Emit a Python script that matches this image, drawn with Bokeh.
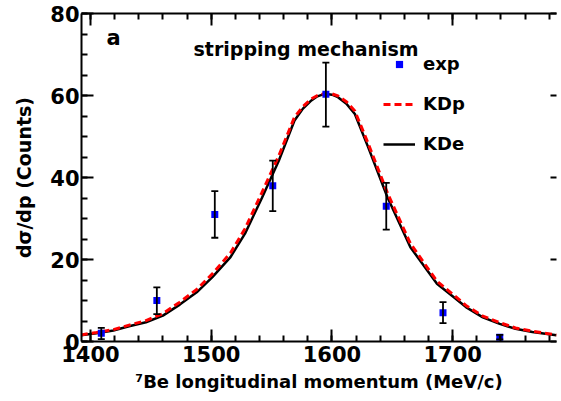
from bokeh.plotting import figure
from bokeh.models import (Range1d, SingleIntervalTicker, LinearAxis, ColumnDataSource,
                          Whisker, TeeHead, Legend, LegendItem, Label, CustomLabelingPolicy)
from bokeh.embed import file_html
from bokeh.resources import INLINE

# experimental data
exp_x = [1409, 1455, 1503, 1551, 1595, 1645, 1692, 1739]
exp_y = [2.0, 10.0, 31.0, 38.0, 60.3, 33.0, 7.0, 1.05]
exp_lo = [0.6, 6.7, 25.3, 31.8, 52.4, 27.3, 4.5, 0.5]
exp_hi = [3.3, 13.2, 36.7, 44.1, 68.0, 38.7, 9.6, 1.6]

# model curves
curve_x = [1392, 1405, 1419, 1432, 1446, 1460, 1474, 1488, 1501, 1516, 1528, 1542,
           1556, 1569, 1576, 1583, 1588, 1594, 1600, 1605, 1612, 1619, 1630, 1646,
           1665, 1679, 1687, 1701, 1711, 1725, 1739, 1752, 1766, 1786]
kde_y = [1.5, 2.0, 2.7, 3.7, 4.7, 6.3, 9.0, 12.0, 15.7, 20.6, 26.3, 35.0,
         44.1, 53.9, 56.8, 58.8, 59.8, 60.4, 60.2, 59.6, 58.0, 55.5, 47.4, 35.2,
         23.0, 17.3, 14.1, 10.8, 8.4, 5.9, 4.3, 3.1, 2.3, 1.5]
kdp_y = [1.6, 2.2, 2.9, 4.0, 5.1, 6.8, 9.6, 12.7, 16.5, 21.6, 27.5, 36.3,
         45.3, 54.7, 57.3, 59.2, 60.0, 60.5, 60.4, 59.9, 58.5, 56.2, 48.3, 36.2,
         23.9, 18.0, 14.7, 11.3, 8.8, 6.2, 4.6, 3.3, 2.5, 1.6]

FONT = "DejaVu Sans"

p = figure(width=561, height=401, x_range=Range1d(1392.6, 1786), y_range=Range1d(0, 80),
           output_backend="svg", toolbar_location=None,
           min_border_left=81, min_border_top=13, min_border_bottom=60, min_border_right=0)
p.grid.visible = False
p.outline_line_color = None
p.background_fill_color = "white"
p.border_fill_color = "white"

xt = SingleIntervalTicker(interval=100, num_minor_ticks=5)
yt = SingleIntervalTicker(interval=20, num_minor_ticks=4)

NO_LABELS = "try { indices.clear(); return indices } catch (e) { return new indices.constructor(indices.size) }"

def style_axis(ax, labels=True, line=True, minor=True, tick_in=12):
    ax.major_tick_in = tick_in
    ax.major_tick_out = 0
    ax.minor_tick_in = 6 if minor else 0
    ax.minor_tick_out = 0
    ax.major_tick_line_width = 2
    ax.minor_tick_line_width = 2
    ax.major_tick_line_color = "black"
    ax.minor_tick_line_color = "black" if minor else None
    ax.axis_line_width = 2
    ax.axis_line_color = "black" if line else None
    if labels:
        ax.major_label_text_font = FONT
        ax.major_label_text_font_style = "bold"
        ax.major_label_text_font_size = "21px"
        ax.major_label_text_color = "black"
    else:
        ax.major_label_policy = CustomLabelingPolicy(code=NO_LABELS)
        ax.major_label_standoff = 0
        ax.major_label_text_font_size = "2px"

p.xaxis.ticker = xt
p.yaxis.ticker = yt
style_axis(p.xaxis[0])
style_axis(p.yaxis[0])
p.xaxis.major_label_standoff = 4
p.yaxis.major_label_standoff = 2
p.xaxis.axis_label = "\u2077Be longitudinal momentum (MeV/c)"
p.yaxis.axis_label = "d\u03c3/dp (Counts)"
for ax in (p.xaxis[0], p.yaxis[0]):
    ax.axis_label_text_font = FONT
    ax.axis_label_text_font_style = "bold"
    ax.axis_label_text_color = "black"
p.xaxis.axis_label_text_font_size = "18px"
p.yaxis.axis_label_text_font_size = "19px"
p.xaxis.axis_label_standoff = 6
p.yaxis.axis_label_standoff = 12

top = LinearAxis(ticker=SingleIntervalTicker(interval=100, num_minor_ticks=5))
style_axis(top, labels=False)
p.add_layout(top, "above")
right = LinearAxis(ticker=SingleIntervalTicker(interval=20, num_minor_ticks=4))
style_axis(right, labels=False, line=False, minor=False, tick_in=6)
p.add_layout(right, "right")

# curves
kde = p.line(curve_x, kde_y, line_color="black", line_width=2.5)
kdp = p.line(curve_x, kdp_y, line_color="#ff0000", line_width=3, line_dash="7 4")

# error bars
src = ColumnDataSource(dict(x=exp_x, y=exp_y, lo=exp_lo, hi=exp_hi))
wh = Whisker(source=src, base="x", upper="hi", lower="lo", line_color="black", line_width=1.8,
             upper_head=TeeHead(size=7, line_width=1.8, line_color="black"),
             lower_head=TeeHead(size=7, line_width=1.8, line_color="black"), level="glyph")
p.add_layout(wh)
pts = p.scatter("x", "y", source=src, marker="square", size=7, fill_color="#0000ff",
                line_color=None)

legend = Legend(items=[LegendItem(label="exp", renderers=[pts]),
                       LegendItem(label="KDp", renderers=[kdp]),
                       LegendItem(label="KDe", renderers=[kde])],
                location=(302, 187), border_line_color=None, background_fill_alpha=0,
                glyph_width=32, glyph_height=18, label_height=18, label_standoff=8,
                spacing=19, padding=0, margin=0,
                label_text_font=FONT, label_text_font_style="bold",
                label_text_font_size="18px", label_text_color="black")
p.add_layout(legend)

p.add_layout(Label(x=25, y=304, x_units="screen", y_units="screen", text="a",
                   text_font=FONT, text_font_style="bold", text_font_size="21px",
                   text_baseline="alphabetic", text_color="black"))
p.add_layout(Label(x=112, y=293, x_units="screen", y_units="screen", text="stripping mechanism",
                   text_font=FONT, text_font_style="bold", text_font_size="19px",
                   text_baseline="alphabetic", text_color="black"))

open("out.html", "w").write(file_html(p, INLINE))
